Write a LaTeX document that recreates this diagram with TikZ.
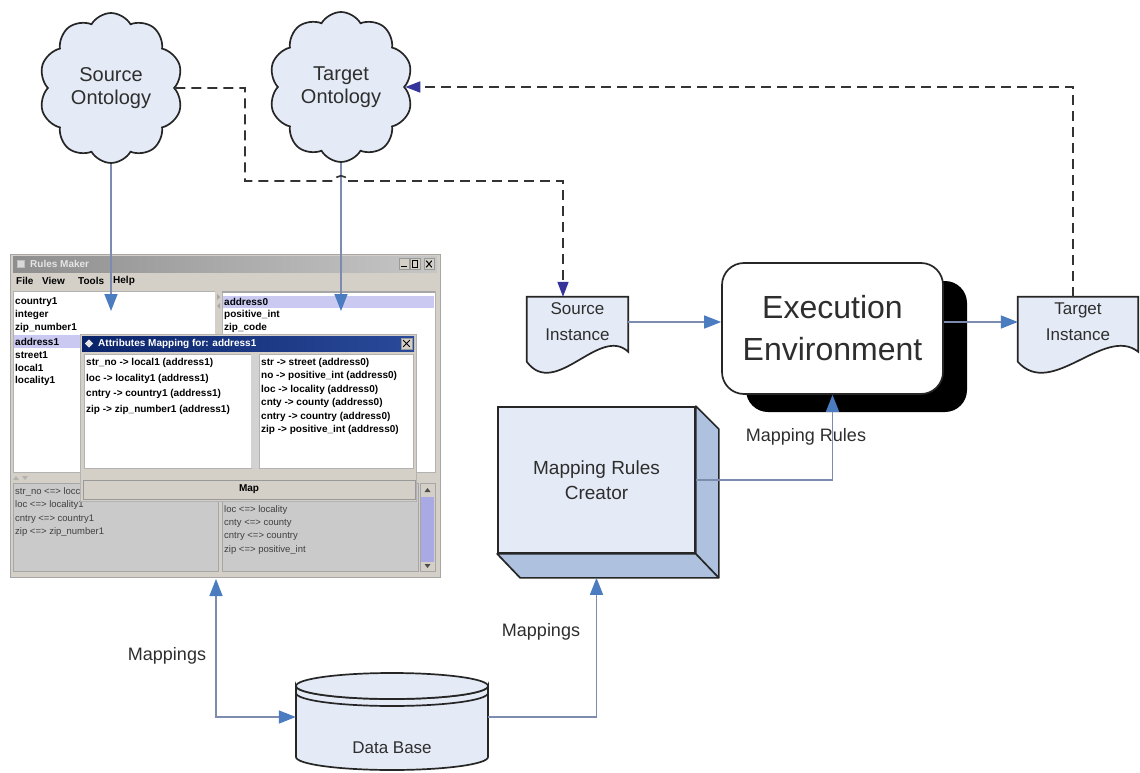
\documentclass[tikz,border=0pt]{standalone}
\usepackage{fontspec}
\setmainfont{Liberation Sans}
\usetikzlibrary{shapes.symbols,arrows.meta,calc,shadows}
\definecolor{shapefill}{HTML}{E4EBF6}
\definecolor{sidefill}{HTML}{AEC2E0}
\definecolor{conn}{HTML}{7D8CAE}
\definecolor{tipc}{HTML}{4C7CC0}
\definecolor{dashtip}{HTML}{34349A}
\definecolor{winc}{HTML}{D4D0C8}
\definecolor{selc}{HTML}{C9C9F2}
\definecolor{navyl}{HTML}{0A246A}
\definecolor{navyr}{HTML}{2A4A9A}
\definecolor{panec}{HTML}{CACACA}
\definecolor{thumbc}{HTML}{A9A9E3}
\definecolor{ttl}{HTML}{8E8E8E}
\definecolor{ttr}{HTML}{C6C6C6}
\definecolor{txt}{HTML}{2E2E2E}
\tikzset{
 outline/.style={draw=black!85, line width=1.7pt},
 flow/.style={draw=conn, line width=1.6pt, -{Triangle[length=17pt,width=13pt,color=tipc]}},
 dflow/.style={draw=conn, line width=1.6pt, {Triangle[length=17pt,width=13pt,color=tipc]}-{Triangle[length=17pt,width=13pt,color=tipc]}},
 dashline/.style={draw=black!80, line width=1.6pt, dash pattern=on 10pt off 6pt},
 dashflow/.style={dashline, -{Triangle[length=15pt,width=11pt,color=dashtip]}},
 onto/.style={cloud, cloud puffs=10, cloud puff arc=120, cloud ignores aspect, outline, fill=shapefill, minimum width=144pt, minimum height=150pt, align=center, font=\fontsize{20}{23}\selectfont, text=txt, inner sep=0pt},
 docbox/.style={inner sep=0pt, minimum height=50pt},
 doctext/.style={inner sep=0pt, align=center, font=\fontsize{17}{26}\selectfont, text=txt},
 lbl/.style={font=\fontsize{18}{22}\selectfont, text=txt, inner sep=0pt},
 scr/.style={anchor=west, inner sep=0pt, font=\bfseries\fontsize{10}{12}\selectfont, text=black},
 scrr/.style={anchor=west, inner sep=0pt, font=\fontsize{9.5}{11}\selectfont, text=black!75},
 btn/.style={fill=winc, draw=gray!80, line width=0.6pt},
}
\newcommand{\docshape}[1]{%
  \filldraw[outline, fill=shapefill] (#1.north west) -- (#1.north east) -- ($(#1.north east)+(0,55)$)
   .. controls ($(#1.north east)!0.28!(#1.north west)+(0,28)$) and ($(#1.north west)!0.28!(#1.north east)+(0,103)$) ..
   ($(#1.north west)+(0,65)$) -- cycle;}
\begin{document}
\begin{tikzpicture}[x=1pt,y=-1pt]
\useasboundingbox (0,0) rectangle (1140,773);
\fill[white] (0,0) rectangle (1140,773);

% ---------------- screenshot of the Rules Maker window ----------------
\node[fill=winc, draw=gray!70, line width=0.8pt, minimum width=430pt, minimum height=323pt, inner sep=0pt] (shot) at (225,415.5) {};
\shade[left color=ttl, right color=ttr] (13,256) rectangle (437,272);
\node[fill=gray!30, draw=gray!50, minimum size=7pt, inner sep=0pt] (wicon) at (21,264) {};
\node[scr, text=gray!20] (wtitle) at (30,264) {Rules Maker};
\node[btn, minimum width=10pt, minimum height=11pt, inner sep=0pt] (bmin) at (404,264) {};
\node[btn, minimum width=10pt, minimum height=11pt, inner sep=0pt] (bmax) at (415,264) {};
\node[btn, minimum width=10pt, minimum height=11pt, inner sep=0pt] (bcls) at (429,264) {};
\draw[black, line width=1pt] ($(bmin.south west)+(2.5,-3)$) -- ($(bmin.south east)+(-2.5,-3)$);
\draw[black, line width=0.8pt] ($(bmax.north west)+(2.5,2.5)$) rectangle ($(bmax.south east)+(-2.5,-2.5)$);
\draw[black, line width=1pt] ($(bcls.north west)+(2.5,2.5)$) -- ($(bcls.south east)+(-2.5,-2.5)$)
      ($(bcls.north east)+(-2.5,2.5)$) -- ($(bcls.south west)+(2.5,-2.5)$);
\node[scr] (mfile) at (16,281) {File};
\node[scr] (mview) at (42,281) {View};
\node[scr] (mtools) at (78,281) {Tools};
\node[scr] (mhelp) at (113,281) {Help};

% upper lists
\filldraw[fill=white, draw=gray!60] (13,291) rectangle (215,472);
\fill[selc] (14,335) rectangle (214,348);
\foreach \t [count=\i] in {country1,integer,zip\_number1,address1,street1,local1,locality1}
  \node[scr] (ll\i) at (15,{302+13.2*(\i-1)}) {\t};
\fill[winc] (215,291) rectangle (222,472);
\fill[gray!70] (217,294) -- (220,297) -- (217,300) -- cycle;
\fill[gray!70] (220,303) -- (217,306) -- (220,309) -- cycle;
\filldraw[fill=white, draw=gray!60] (222,291) rectangle (435,472);
\draw[gray!70, line width=1.2pt] (222,292) -- (435,292);
\fill[selc] (223,296) rectangle (434,308);
\foreach \t [count=\i] in {address0,positive\_int,zip\_code}
  \node[scr] (rl\i) at (224,{302+13.2*(\i-1)}) {\t};

% lower panes
\fill[gray!60] (16,476) -- (19,480) -- (13,480) -- cycle;
\fill[gray!60] (22,476) -- (28,476) -- (25,480) -- cycle;
\filldraw[fill=panec, draw=gray!70] (13,483) rectangle (218,571);
\filldraw[fill=panec, draw=gray!70] (222,483) rectangle (418,571);
\filldraw[fill=winc, draw=gray!70] (420,483) rectangle (435,571);
\fill[thumbc] (421,497) rectangle (434,562);
\fill[black!70] (424.5,492) -- (427.5,488) -- (430.5,492) -- cycle;
\fill[black!70] (424.5,564) -- (427.5,568) -- (430.5,564) -- cycle;
\foreach \t [count=\i] in {str\_no <=> locc,loc <=> locality1,cntry <=> country1,zip <=> zip\_number1}
  \node[scrr] (bl\i) at (15,{492+13.4*(\i-1)}) {\t};
\foreach \t [count=\i] in {loc <=> locality,cnty <=> county,cntry <=> country,zip <=> positive\_int}
  \node[scrr] (br\i) at (224,{510+13.4*(\i-1)}) {\t};

% dialog
\filldraw[fill=winc, draw=gray!60] (80,334) rectangle (416,501);
\shade[left color=navyl, right color=navyr] (82,336) rectangle (414,351);
\node[fill=gray!20, minimum size=6pt, inner sep=0pt, rotate=45] (dicon) at (89,343.5) {};
\node[scr, text=white] (dtitle) at (98,343.5) {Attributes Mapping for: address1};
\node[btn, minimum width=11pt, minimum height=11pt, inner sep=0pt] (dcls) at (406.5,343.5) {};
\draw[black, line width=1pt] ($(dcls.north west)+(2.5,2.5)$) -- ($(dcls.south east)+(-2.5,-2.5)$)
      ($(dcls.north east)+(-2.5,2.5)$) -- ($(dcls.south west)+(2.5,-2.5)$);
\filldraw[fill=white, draw=gray!60] (84,354) rectangle (251,468);
\fill[gray!35] (251,354) rectangle (259,468);
\filldraw[fill=white, draw=gray!60] (259,354) rectangle (413,468);
\foreach \t [count=\i] in {str\_no -> local1 (address1),loc -> locality1 (address1),cntry -> country1 (address1),zip -> zip\_number1 (address1)}
  \node[scr] (dl\i) at (86,{363+15.6*(\i-1)}) {\t};
\foreach \t [count=\i] in {str -> street (address0),no -> positive\_int (address0),loc -> locality (address0),cnty -> county (address0),cntry -> country (address0),zip -> positive\_int (address0)}
  \node[scr] (dr\i) at (261,{363+13.4*(\i-1)}) {\t};
\node[btn, minimum width=332pt, minimum height=19pt, inner sep=0pt] (mapbtn) at (249,489.5) {};
\node[scr, anchor=center] (maptxt) at (mapbtn.center) {Map};

% ---------------- ontologies ----------------
\node[onto] (src) at (111,88) {Source\\Ontology};
\node[onto] (tgt) at (341,87) {Target\\Ontology};

% ---------------- instances and execution environment ----------------
\node[docbox, minimum width=101pt] (si) at (577.5,322) {};
\docshape{si}
\node[doctext] (sit) at (si.center) {Source\\Instance};
\node[docbox, minimum width=120pt] (ti) at (1078,322) {};
\docshape{ti}
\node[doctext] (tit) at (ti.center) {Target\\Instance};

\node[outline, fill=white, rounded corners=22pt, minimum width=221pt, minimum height=131pt,
      drop shadow={shadow xshift=24pt, shadow yshift=-18pt, opacity=1, fill=black},
      align=center, font=\fontsize{32}{42}\selectfont, text=txt] (ee) at (832.5,328.5) {Execution\\Environment};

% ---------------- mapping rules creator ----------------
\node[outline, fill=shapefill, minimum width=197pt, minimum height=146pt, align=center,
      font=\fontsize{19}{25}\selectfont, text=txt] (mrc) at (596.5,480) {Mapping Rules\\Creator};
\filldraw[outline, fill=sidefill, line join=round] (mrc.north east) -- ++(23,23) -- ($(mrc.south east)+(23,24)$)
   -- ($(mrc.south west)+(23,24)$) -- (mrc.south west) -- (mrc.south east) -- cycle;
\draw[outline] (mrc.south east) -- ++(23,24);

% ---------------- data base ----------------
\node[minimum width=192pt, minimum height=97pt, inner sep=0pt] (db) at (392,717) {};
\filldraw[outline, fill=shapefill] (296,686) -- (296,757) arc[start angle=180, end angle=0, x radius=96, y radius=13]
   -- (488,686) arc[start angle=0, end angle=180, x radius=96, y radius=13] -- cycle;
\filldraw[outline, fill=shapefill] (392,686) ellipse[x radius=96, y radius=13];
\draw[outline] (296,693) arc[start angle=180, end angle=0, x radius=96, y radius=13];
\node[lbl, font=\fontsize{17}{20}\selectfont] (dbt) at (392,748) {Data Base};

% ---------------- connectors ----------------
\coordinate (srcin) at (111,311);
\coordinate (tgtin) at (341,311);
\draw[flow] (src.south) -- (srcin);
\draw[flow] (tgt.south) -- (tgtin);

\coordinate (sin) at ($(si.north)+(-14.5,0)$);
\coordinate (tin) at ($(ti.north)+(-5,0)$);
\draw[dashline] (src.east) -- (245,88) -- (245,181) -- (334,181) .. controls (337,174) and (345,174) .. (348,181);
\draw[dashflow] (348,181) -- (sin |- 0,181) -- (sin);
\draw[dashflow] (tin) -- (tin |- tgt.east) -- (tgt.east);

\draw[flow] (si.east) -- (si.east -| ee.west);
\draw[flow] (ee.east |- ti.west) -- (ti.west);
\draw[flow] (mrc.east) -| (ee.south);
\node[lbl] (lmr) at (806,437) {Mapping Rules};

\coordinate (shotbot) at (216,579);
\coordinate (mrcbot) at ($(mrc.south)+(0,24)$);
\draw[dflow] (shotbot) |- (db.west);
\draw[flow] (db.east) -| (mrcbot);
\node[lbl] (lm1) at (167,656) {Mappings};
\node[lbl] (lm2) at (541,632) {Mappings};
\end{tikzpicture}
\end{document}
